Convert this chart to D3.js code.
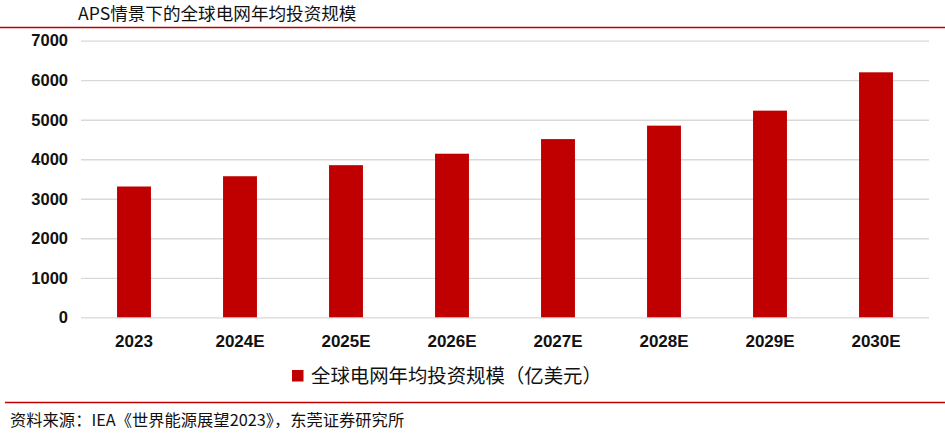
<!DOCTYPE html>
<html><head><meta charset="utf-8">
<script src="https://cdn.jsdelivr.net/npm/d3@7"></script>
<style>body{margin:0;background:#fff;}svg{display:block;}</style>
</head><body>
<svg id="c" width="945" height="433"></svg>
<script>
const categories = ["2023","2024E","2025E","2026E","2027E","2028E","2029E","2030E"];
const values = [3310,3570,3850,4140,4510,4850,5230,6200];
const yTicks = [0,1000,2000,3000,4000,5000,6000,7000];
const title = "APS情景下的全球电网年均投资规模";
const seriesName = "全球电网年均投资规模（亿美元）";
const source = "资料来源：IEA《世界能源展望2023》，东莞证券研究所";

const svg = d3.select("#c");
const red = "#c00000";
const cjk = "'Noto Sans CJK SC', sans-serif";
const num = "'Liberation Sans', Arial, sans-serif";

const x = d3.scaleBand().domain(categories).range([81, 929]).paddingInner(0.68).paddingOuter(0.34);
const y = d3.scaleLinear().domain([0, 7000]).range([317.3, 40.7]);

// title and rules
svg.append("text").attr("x", 78).attr("y", 19.5).attr("font-family", cjk).attr("font-size", 17.6)
  .attr("fill", "#111").text(title);
svg.append("line").attr("x1", 0).attr("x2", 945).attr("y1", 27.5).attr("y2", 27.5)
  .attr("stroke", red).attr("stroke-width", 1.5);
svg.append("line").attr("x1", 5).attr("x2", 945).attr("y1", 402.5).attr("y2", 402.5)
  .attr("stroke", red).attr("stroke-width", 1.5);

// gridlines
const yAxis = d3.axisLeft(y).tickValues(yTicks).tickSize(-(929 - 81)).tickPadding(13).tickFormat(d3.format("d"));
const gy = svg.append("g").attr("transform", "translate(81,0)").call(yAxis);
gy.select(".domain").remove();
gy.selectAll(".tick line").attr("stroke", "#d9d9d9").attr("stroke-width", 1.3);
gy.selectAll(".tick text").attr("font-family", num).attr("font-size", 16.5).attr("font-weight", "bold")
  .attr("fill", "#111");

// bars
svg.append("g").selectAll("rect").data(values).join("rect")
  .attr("x", (d, i) => x(categories[i]))
  .attr("width", x.bandwidth())
  .attr("y", d => y(d))
  .attr("height", d => y(0) - y(d))
  .attr("fill", red);

// x axis
const xAxis = d3.axisBottom(x).tickSize(0).tickPadding(18);
const gx = svg.append("g").attr("transform", "translate(0,317.3)").call(xAxis);
gx.select(".domain").remove();
gx.selectAll(".tick text").attr("font-family", num).attr("font-size", 17).attr("font-weight", "bold")
  .attr("fill", "#111");

// legend
svg.append("rect").attr("x", 292).attr("y", 370).attr("width", 11.5).attr("height", 11.5).attr("fill", red);
svg.append("text").attr("x", 311).attr("y", 382.5).attr("font-family", cjk).attr("font-size", 19.4)
  .attr("fill", "#111").text(seriesName);

// source
svg.append("text").attr("x", 10).attr("y", 426).attr("font-family", cjk).attr("font-size", 16.3)
  .attr("fill", "#111").text(source);
</script>
</body></html>
